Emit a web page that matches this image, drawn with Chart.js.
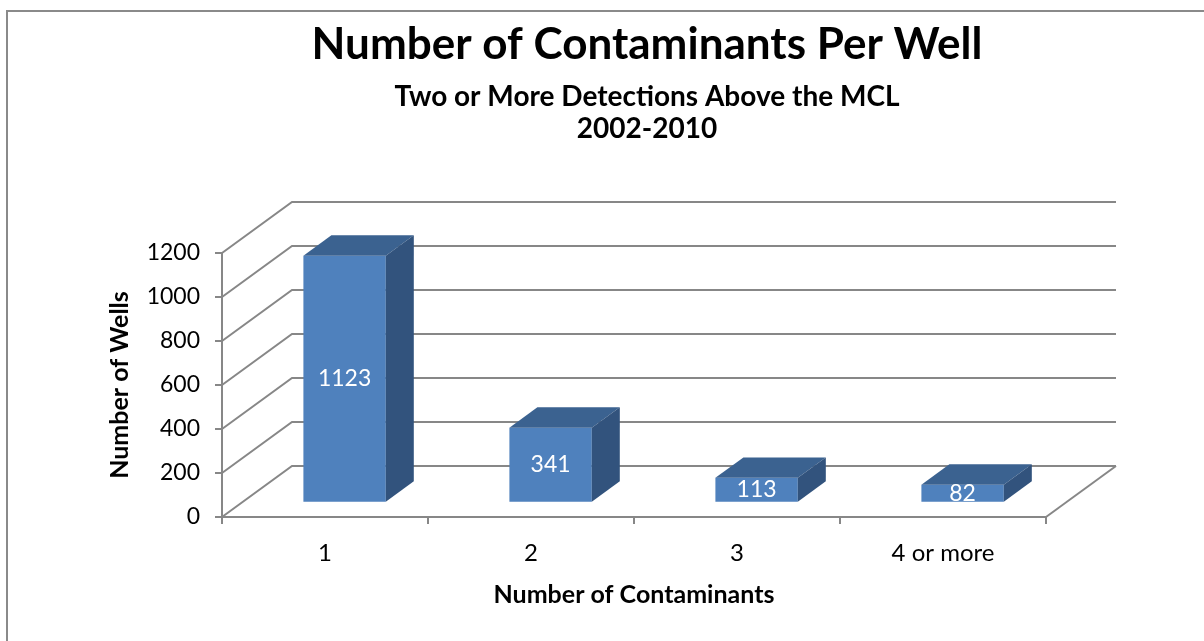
<!DOCTYPE html>
<html>
<head>
<meta charset="utf-8">
<script src="https://cdn.jsdelivr.net/npm/chart.js@4/dist/chart.umd.min.js"></script>
<style>
  body { margin: 0; background: #fff; }
  #wrap { width: 1204px; height: 641px; }
</style>
</head>
<body>
<div id="wrap"><canvas id="grafico" width="1204" height="641"></canvas></div>
<script>
const categorias = ['1', '2', '3', '4 or more'];
const pocos = [1123, 341, 113, 82];
const Y_MIN = 0;
const Y_MAX = 1200;
const Y_PASSO = 200;

// profundidade do "3D"
const DX = 70, DY = -51;
const FRENTE = 0.28, FUNDO = 0.40;
const CINZA = '#878787';

const plugin3d = {
    id: 'plugin3d',
    beforeDraw(chart) {
        const ctx = chart.ctx;
        ctx.save();
        ctx.fillStyle = '#fff';
        ctx.fillRect(0, 0, chart.width, chart.height);
        ctx.strokeStyle = '#8a8a8a';
        ctx.lineWidth = 2;
        ctx.strokeRect(7, 11, 1400, 1400);
        ctx.restore();
    },
    beforeDatasetsDraw(chart) {
        const ctx = chart.ctx;
        const a = chart.chartArea;
        const y = chart.scales.y;
        ctx.save();
        ctx.strokeStyle = CINZA;
        ctx.lineWidth = 2;
        y.ticks.forEach(t => {
            const py = y.getPixelForValue(t.value);
            ctx.beginPath();
            ctx.moveTo(a.left, py);
            ctx.lineTo(a.left + DX, py + DY);
            ctx.lineTo(a.right + DX, py + DY);
            ctx.stroke();
        });
        const base = y.getPixelForValue(0);
        ctx.beginPath();
        ctx.moveTo(a.right, base);
        ctx.lineTo(a.right + DX, base + DY);
        ctx.stroke();
        ctx.restore();

        // barras deslocadas para o meio da profundidade
        ctx.save();
        ctx.translate(FRENTE * DX, FRENTE * DY);
    },
    afterDatasetsDraw(chart) {
        const ctx = chart.ctx;
        ctx.restore();
        const ox = FRENTE * DX, oy = FRENTE * DY;
        const bx = FUNDO * DX, by = FUNDO * DY;
        const meta = chart.getDatasetMeta(0);
        ctx.save();
        meta.data.forEach((bar, i) => {
            const p = bar.getProps(['x', 'y', 'base', 'width'], true);
            const l = p.x - p.width / 2 + ox, r = p.x + p.width / 2 + ox;
            const t = p.y + oy, b = p.base + oy;
            // topo
            ctx.fillStyle = '#3B6290';
            ctx.beginPath();
            ctx.moveTo(l, t);
            ctx.lineTo(l + bx, t + by);
            ctx.lineTo(r + bx, t + by);
            ctx.lineTo(r, t);
            ctx.closePath();
            ctx.fill();
            // lateral
            ctx.fillStyle = '#32537D';
            ctx.beginPath();
            ctx.moveTo(r, t);
            ctx.lineTo(r + bx, t + by);
            ctx.lineTo(r + bx, b + by);
            ctx.lineTo(r, b);
            ctx.closePath();
            ctx.fill();
            // rótulo
            ctx.fillStyle = '#fff';
            ctx.font = '23px Lato';
            ctx.textAlign = 'center';
            ctx.textBaseline = 'middle';
            ctx.fillText(String(pocos[i]), p.x + ox, (t + b) / 2);
        });
        ctx.restore();
    }
};

Chart.defaults.font.family = 'Lato';
Chart.defaults.color = '#000';

new Chart(document.getElementById('grafico').getContext('2d'), {
    type: 'bar',
    data: {
        labels: categorias,
        datasets: [{
            label: 'Number of Wells',
            data: pocos,
            backgroundColor: '#4F81BD',
            borderWidth: 0,
            barPercentage: 0.4,
            categoryPercentage: 1
        }]
    },
    options: {
        responsive: false,
        animation: false,
        layout: { padding: { left: 90, right: 0, top: 0, bottom: 0 } },
        plugins: {
            legend: { display: false },
            tooltip: { enabled: false },
            title: {
                display: true,
                text: 'Number of Contaminants Per Well',
                font: { size: 44, weight: 'bold', lineHeight: '48px' },
                padding: { top: 21, bottom: 0 }
            },
            subtitle: {
                display: true,
                text: ['Two or More Detections Above the MCL', '2002-2010'],
                font: { size: 28, weight: 'bold', lineHeight: '32px' },
                padding: { top: 12, bottom: 108 }
            }
        },
        scales: {
            x: {
                grid: { drawOnChartArea: false, drawTicks: true, tickLength: 7, color: CINZA, lineWidth: 2 },
                border: { display: true, color: CINZA, width: 2 },
                ticks: { font: { size: 24, lineHeight: '26px' }, padding: 16 },
                title: { display: true, text: 'Number of Contaminants', font: { size: 25, weight: 'bold', lineHeight: '28px' }, padding: { top: 0, bottom: 32 } },
                afterFit(s) { s.height = 124; }
            },
            y: {
                min: Y_MIN,
                max: Y_MAX,
                grid: { drawOnChartArea: false, drawTicks: true, tickLength: 7, color: CINZA, lineWidth: 2 },
                border: { display: true, color: CINZA, width: 2 },
                ticks: { stepSize: Y_PASSO, font: { size: 23 }, padding: 15, callback: v => String(v) },
                title: { display: true, text: 'Number of Wells', font: { size: 25, weight: 'bold', lineHeight: '28px' }, padding: { top: 16, bottom: 0 } },
                afterFit(s) { s.width = 132; }
            },
            y2: {
                position: 'right',
                display: true,
                grid: { display: false },
                border: { display: false },
                ticks: { display: false },
                afterFit(s) { s.width = 158; }
            }
        }
    },
    plugins: [plugin3d]
});
</script>
</body>
</html>
